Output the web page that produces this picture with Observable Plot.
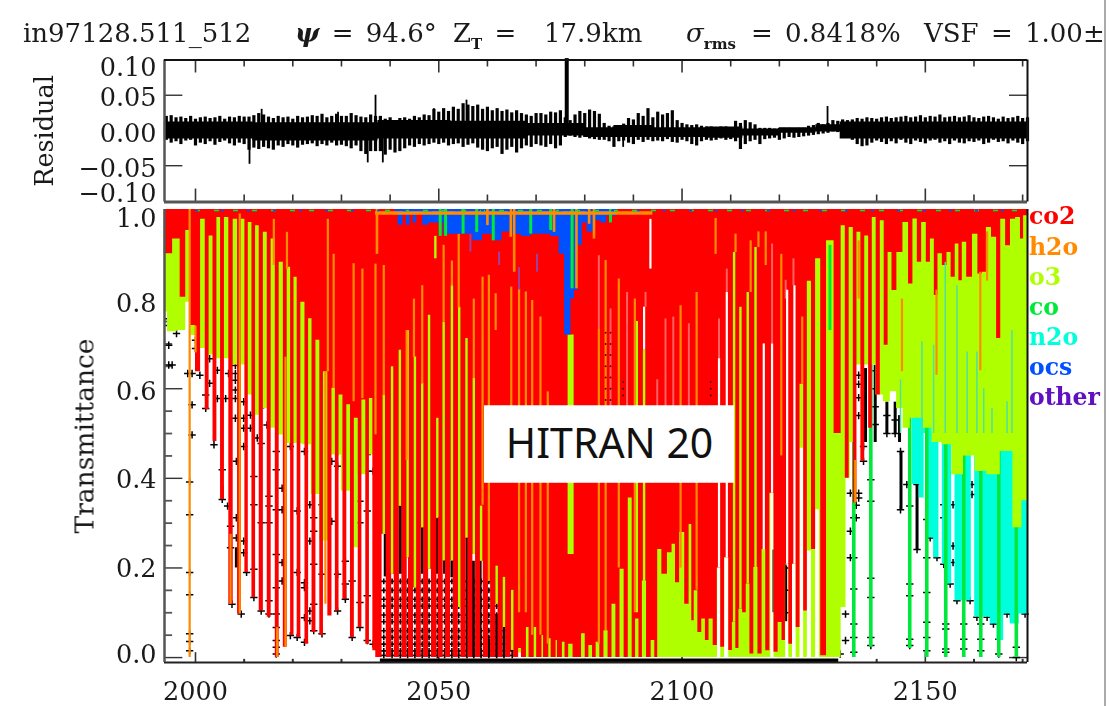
<!DOCTYPE html>
<html><head><meta charset="utf-8">
<script src="https://cdn.jsdelivr.net/npm/d3@7"></script>
<script src="https://cdn.jsdelivr.net/npm/@observablehq/plot@0.6"></script>
<style>
html,body{margin:0;padding:0;background:#fff}
#page{position:relative;width:1109px;height:706px;overflow:hidden;background:#fff;font-family:"DejaVu Serif",serif;color:#1a1a1a}
#page svg{position:absolute;left:0;background:transparent;filter:blur(.45px)}
.t{position:absolute;white-space:pre;font-size:26px;word-spacing:4px;line-height:30px;top:18px;filter:blur(.35px)}
.sub{font-size:15px;font-weight:bold;position:relative;top:7px}
.leg{position:absolute;left:1029px;font-weight:bold;font-size:23.5px;line-height:26px;filter:blur(.3px)}
#clip{position:absolute;left:0;top:0;width:1103px;height:60px;overflow:hidden}
#edge{position:absolute;left:1104px;top:0;width:2px;height:706px;background:#aaa}
</style></head><body><div id="page"><div id="clip">
<span class="t" style="left:23px">in97128.511_512</span>
<span class="t" style="left:295px"><b><i>ψ</i></b> = 94.6°</span>
<span class="t" style="left:453px">Z<span class="sub">T</span> =</span>
<span class="t" style="left:544px">17.9km</span>
<span class="t" style="left:686px"><i>σ</i><span class="sub">rms</span></span>
<span class="t" style="left:751px">= 0.8418%</span>
<span class="t" style="left:924px">VSF =</span>
<span class="t" style="left:1025px">1.00±0</span>
</div><div id="edge"></div></div>
<script>
// ---------- axis values
const xDomain = [1993.63, 2171];
const xMajor = [2000, 2050, 2100, 2150];
const xMinor = [2010, 2020, 2030, 2040, 2060, 2070, 2080, 2090, 2110, 2120, 2130, 2140, 2160, 2170];
const transMajor = [0, 0.2, 0.4, 0.6, 0.8];
const transMinor = [0.05, 0.1, 0.15, 0.25, 0.3, 0.35, 0.45, 0.5, 0.55, 0.65, 0.7, 0.75, 0.85, 0.9, 0.95];
const gases = ["co2", "h2o", "o3", "co", "n2o", "ocs", "other"];
const gasTop = [203, 234, 264, 294, 324, 354, 384];
const RED = "#ff0000", ORANGE = "#ff8c00", LIME = "#b0ff00", GREEN = "#00e83a", CYAN = "#00ffdc", BLUE = "#0050ff", PURPLE = "#6010c0";
const gasColors = [RED, ORANGE, LIME, GREEN, CYAN, BLUE, PURPLE];

// ---------- residual panel, thousandths, one value per wavenumber from 1994 to 2171
const residHi = [20,21,18,19,17,20,16,18,19,17,18,20,16,19,18,20,19,
 19,21,24,22,19,17,20,18,19,16,20,18,19,21,20,23,18,20,23,20,
 20,24,21,19,18,22,20,20,16,18,14,17,18,16,20,18,22,21,
 30,26,31,27,33,30,38,36,34,36,30,33,28,31,27,29,25,28,24,22,20,24,
 24,22,26,25,28,18,14,
 22,27,24,29,27,23, 10,6,5,6,9,
 17,15,24,20,31,18,26,22,24,28,14,
 10,8,7,8,6,5,5,4,5,5,4, 13,10,14,11,8,
 3,3,3,2,3,3,3,2,3,3, 6,7,10,8, 10, 14,13,15,14,
 15,17,16,18,17,16,18,19,17,18,19,20,18,19,21,18,20,19,22,18,19,20,18,19,21,18,17,19,20,18,16,19,17,18,20,17,18];
const residLo = [-14,-18,-16,-20,-15,-14,-22,-18,-20,-16,-21,-17,-15,-19,-22,-18,-20,
 -28,-25,-27,-24,-26,-28,-22,-24,-20,-22,-25,-21,-20,-19,-23,-20,-22,-18,-22,-21,
 -23,-26,-22,-30,-34,-30,-30,-30,-35,-28,-32,-30,-26,-22,-24,-20,-22,-20,
 -18,-20,-18,-22,-20,-19,-24,-21,-19,-25,-28,-30,-26,-24,-34,-28,-24,-32,-26,-22,-24,-20,
 -22,-24,-20,-26,-22,-10,-8,
 -10,-11,-10,-12,-13,-14, -14,-16,-24,-16,-15,
 -18,-20,-14,-17,-14,-16,-15,-16,-13,-17,-18,
 -14,-16,-20,-22,-16,-14,-15,-14,-12,-14,-13, -16,-27,-20,-16,-14,
 -20,-13,-12,-11,-14,-12,-10,-11,-10,-9, -8,-7,-6,-5, -4, -2,-3,-2,-3,
 -14,-20,-23,-22,-18,-15,-17,-20,-16,-19,-14,-18,-20,-15,-17,-19,-15,-14,-18,-16,-20,-15,-18,-19,-16,-17,-15,-20,-18,-14,-17,-16,-19,-15,-18,-20,-16];
// solid core of the noise band: [wavenumber, upper, lower]
const residCore = [[1993.6,.012,-.012],[2030,.011,-.015],[2045,.014,-.012],[2060,.013,-.012],[2076,.01,-.008],[2084,.004,-.01],[2088,.007,-.01],[2100,.004,-.01],[2110,.005,-.011],[2115,.002,-.008],[2125,.004,-.004],[2130,.008,-.002],[2135,.012,-.012],[2171,.012,-.012]];
const residSpikes = [[2011.1,-0.048],[2035.4,-0.046],[2038.5,-0.046],[2037,0.05],[2013.6,0.03],[2029.3,0.026],[2055.7,0.043],[2049,0.031],[2129.9,0.034],[2087.9,-0.024]];
const residBig = [[2076.3,0.102]];

// ---------- transmittance: lower edge of the solid co2 band
const co2Left = [[1993.6,.901],[1994.5,.901],[1996.1,.934],[1997.6,.804],[1998.4,.953],[1999.5,.741],[2000.5,.638],[2001.6,.978],[2002.4,.553],[2003.2,.941],[2004,.482],[2004.8,.982],[2005.5,.353],[2006.4,.982],[2007.3,.119],[2008.2,.978],[2009.1,.097],[2009.8,.978],[2010.5,.19],[2011.2,.971],[2012,.134],[2012.7,.964],[2013.5,.104],[2014.4,.949],[2015.1,.09],[2016,.934],[2016.8,0],[2017.6,.882],[2018.5,.023],[2019.2,.871],[2019.9,.049],[2020.6,.849],[2021.2,.045],[2022.1,.793],[2022.9,.03],[2023.6,.756],[2024.3,.056],[2025.2,.708],[2025.9,.049],[2026.7,.638],[2027.7,.093],[2028.4,.601],[2029.1,.104],[2029.9,.586],[2030.7,.13],[2031.5,.564],[2032.2,.045],[2033.1,.534],[2033.8,.067],[2034.6,.575],[2035.4,.03],[2036.1,.578],[2036.8,.015],[2037.3,0],[2038,0]];
const co2Mid = [[2038.7,.275],[2039.7,0],[2040.4,.186],[2041.3,0],[2042,.338],[2042.9,0],[2043.6,.223],[2044.2,0],[2045.1,.156],[2045.8,0],[2046.6,.29],[2047.3,0],[2048,.197],[2049,0],[2049.7,.312],[2050.3,0],[2051,.216],[2051.8,0],[2052.7,.216],[2053.4,0],[2054.2,.112],[2055,0],[2055.7,.267],[2056.4,0],[2057.2,.23],[2058,0],[2058.7,.215],[2059.6,0],[2060.3,.171],[2061.1,0],[2061.9,.119],[2062.6,0],[2063.4,.067],[2064.2,0],[2065.1,.016],[2065.8,0],[2066.7,.02],[2067.4,0],[2068.2,.067],[2069,0],[2069.7,.067],[2070.6,0],[2071.1,.049],[2072,0],[2072.9,.042],[2073.5,0],[2074,.038],[2074.8,0],[2075.6,.034],[2076.3,0],[2077.1,.03],[2078.1,0],[2079,0],[2079.7,.053],[2080.5,0],[2081.2,.027],[2082,0],[2082.7,.034],[2083.5,0],[2084.4,.06],[2085.2,0],[2086,.119],[2086.8,0],[2087.7,.197],[2088.5,0],[2089.4,.356],[2090.1,0],[2090.8,.086],[2091.5,0],[2092.2,.171],[2093.2,0],[2094.1,.038],[2094.7,0]];
const co2Block = [[2095.3,.241],[2096.4,.186],[2097.6,.234],[2098.3,.253],[2099,.167],[2100,.279],[2101.1,.119],[2101.8,.297],[2102.2,.082],[2102.8,.149],[2103.7,.056],[2104.4,.086],[2105.2,.038],[2105.9,.086],[2106.9,.027],[2107.6,.2],[2108.3,.023],[2109.2,.223],[2110,.016],[2110.7,.079],[2111.4,.02],[2112,.108],[2112.9,.1],[2113.5,.164],[2114.4,.008],[2115.1,.201],[2116.1,.008],[2116.8,.241],[2117.6,.015],[2118.5,.367],[2119.3,.012],[2120.2,.078],[2120.9,.038],[2121.6,.208],[2122.3,.03],[2123.1,.208],[2123.8,.067],[2124.7,.61],[2125.3,.104],[2126.2,.84],[2127,.241],[2127.9,.89],[2129.1,.004]];
const co2Right = [[2130.3,.93],[2132.2,.5],[2133.2,.964],[2133.9,.4],[2134.8,.96],[2135.6,.345],[2136.3,.949],[2137.2,.438],[2137.9,.941],[2138.8,.512],[2139.4,.982],[2140.4,.586],[2141.1,.975],[2142,.697],[2142.7,.904],[2143.6,.819],[2144.7,.904],[2146.1,.971],[2147,.834],[2147.9,.979],[2148.8,.882],[2149.7,.971],[2150.7,.882],[2151.4,.934],[2152.3,.808],[2152.9,.901],[2154.1,.875],[2154.8,.904],[2155.8,.849],[2156.5,.923],[2157.3,.841],[2157.9,.927],[2159.1,.849],[2160.3,.945],[2161.3,.856],[2162.1,.86],[2163,.96],[2164.2,.938],[2165.1,.712],[2165.9,.978],[2167.1,.919],[2167.9,.978],[2169.2,.982],[2169.9,.934],[2170.5,.986],[2171,.986]];
// strongest co2 lines, wider than the steps above
const co2Strong = [2039.7,2041.3,2042.9,2044.2,2045.8,2047.3,2049,2050.3,2051.8,2053.4,2055,2056.4,2058,2059.6,2061.1,2062.6,2064.2,2065.8,2067.4,2069,2070.6,2072,2073.5,2074.8];
// lower edge of the o3 band
const o3Edge = [[1993.6,.771],[1994.9,.727],[1997.6,.73],[1998.4,.793],[1999.7,.719],[2001.4,.69],[2003.1,.675],[2004.8,.667],[2006.5,.667],[2007.9,.653],[2009.4,.653],[2011.2,.586],[2012.7,.541],[2014.4,.556],[2016,.512],[2017.5,.497],[2019,.478],[2020.9,.478],[2022.9,.475],[2024.7,.364],[2026.4,.26],[2028.8,.452],[2031.2,.371],[2032.7,.245],[2034.2,.408],[2036,.452],[2038.7,.275],[2040.4,.186],[2042.1,.338],[2043.6,.223],[2045.1,.156],[2046.6,.29],[2048,.197],[2049.7,.312],[2051.4,.216],[2052.7,.216],[2054.1,.112],[2055.8,.267],[2057.2,.23],[2058.7,.215],[2060.3,.171],[2061.9,.119],[2063.4,.067],[2065.1,.016],[2066.7,.01],[2067.5,0],[2107,0],[2107.6,.2],[2108.3,0],[2109.2,.223],[2110,0],[2118,0],[2118.5,.367],[2119.3,0],[2121,0],[2121.6,.208],[2122.3,0],[2123.1,.208],[2123.8,0],[2124.7,.467],[2125.3,0],[2126.2,.238],[2127,0],[2127.9,.33],[2128.6,0],[2132.2,0],[2133.2,.112],[2134.2,.4],[2134.9,.48],[2136.6,.653],[2138.4,.653],[2139,.653],[2140.7,.586],[2142.1,.571],[2143.5,.593],[2144.7,.556],[2146.2,.512],[2147.6,.534],[2149,.534],[2150.3,.512],[2152.4,.48],[2154.4,.475],[2156.5,.408],[2159.2,.45],[2161.3,.415],[2164,.408],[2166.8,.46],[2169.2,.29],[2170.5,.35],[2171,.35]];
// lower edge of the n2o band
const n2oEdge = [[2146.8,.7],[2147.9,.386],[2149.6,.356],[2149.9,.5],[2151,.267],[2152.4,.223],[2153.2,.5],[2153.8,.208],[2155.1,.164],[2155.7,.5],[2156.5,.127],[2159.2,.127],[2159.7,.5],[2160.6,.09],[2162.7,.09],[2164,.075],[2165.4,.038],[2166.8,.097],[2168.1,.075],[2170.5,.097],[2171,.097]];
// lower edge of the ocs band on top of the others
const ocsEdge = [[2041,.99],[2042.3,.965],[2043,.99],[2043.7,.965],[2044.5,.99],[2045,.97],[2046,.99],[2047.4,.965],[2048.5,.97],[2050,.97],[2052,.945],[2054,.945],[2056,.945],[2058,.93],[2060,.945],[2062,.93],[2064,.95],[2066,.945],[2068,.94],[2070,.945],[2072,.945],[2074,.94],[2075.5,.9],[2076.2,.72],[2076.8,.72],[2077.5,.8],[2078.3,.82],[2079,.92],[2080,.97],[2081,.95],[2082.7,.975],[2084,.97],[2085,.985],[2088,1]];

// ---------- single lines [wavenumber, upper transmittance, lower transmittance]
const coLines = [[2135.3,.75,0],[2138.8,.75,.023],[2146.8,.75,.02],[2150.3,.75,0],[2154.2,.75,0],[2157.9,.75,0],[2161.4,.75,0],[2165.1,.75,0],[2168.7,.75,0],[2123.3,.65,.3],[2127.4,.893,.44]];
const coTop = [[2055,1,.945],[2057.8,1,.949],[2061.2,1,.93],[2068.9,1,.945],[2073,1,.953],[2077.4,1,.823],[2085.3,1,.97],[2050.3,1,.94],[2051.4,1,.94],[2130.4,.92,.73]];
const h2oLines = [[1998.8,1,0],[2009.1,.99,.097],[2018.5,.67,.023],[2026.7,.638,.119],[2016.8,.067,0],[2007.2,.275,.119],[2000,.74,.68],[2016.1,.978,.875],[2018.8,.949,.867],[2027.2,.978,.638],[2028.4,.9,.601],[2032.5,.879,.571],[2034.3,.867,.578],[2037,.878,.497],[2038.7,.875,.586],[2043.4,.73,.44],[2044.9,.8,.67],[2046.6,.83,.61],[2051,.92,.75],[2052.7,.885,.83],[2054.1,.945,.78],[2057.2,.8,.623],[2059,.849,.34],[2060.3,.853,.17],[2061.7,.812,.73],[2064.9,.827,.44],[2066.5,.823,.1],[2067.9,.816,.1],[2069.2,.797,.05],[2070.9,.76,.05],[2072.4,.593,.03],[2084.3,.886,.06],[2082.9,.734,.03],[2087,.845,.2],[2090.3,.8,.1],[2099.7,.785,.2],[2103,.815,.15],[2111,.945,.904],[2114.1,.93,.815],[2115.7,.95,.915],[2117.2,.95,.875],[2120.4,.9,.45],[2106.9,.98,.9],[2124.7,.76,.61],[2136.3,.93,.8],[2145.2,.8,.638],[2152.3,.82,.63],[2161.3,.86,.64],[2162.7,.95,.84],[2135.6,.44,.345]];
const h2oTop = [[2037.3,1,.9],[2060,1,.964],[2064.8,1,.938],[2065.5,1,.86],[2073.7,1,.949],[2078.3,1,.823],[2080.9,1,.967],[2081.9,1,.934]];
const o3Lines = [[2038.7,.586,.275],[2040.4,.649,.186],[2042,.686,.338],[2043.6,.73,.223],[2045.1,.671,.156],[2046.6,.612,.29],[2048,.764,.197],[2049.7,.534,.312],[2051,.749,.216],[2052.7,.83,.216],[2054.2,.782,.112],[2055.7,.712,.267],[2057.2,.623,.23],[2058.7,.338,.215],[2061.9,.204,.119],[2063.4,.179,.067],[2065.1,.15,.016],[2090.7,.75,.1],[2092.2,.686,.17],[2110.7,.904,.079],[2112,.782,.108],[2113.5,.815,.164],[2115.1,.915,.201],[2049.3,.94,.89]];
const o3Wide = [[2077.1,.72,.23]];
const n2oLines = [[2144.9,.62,.5],[2149.3,.705,.5],[2151.7,.697,.5],[2154.1,.882,.5],[2156.5,.83,.5],[2158.6,.682,.5],[2160.6,.682,.5],[2162,.6,.5],[2163.7,.556,.5],[2166.8,.571,.5],[2167.8,.73,.5]];
const otherLines = [[2056.5,.945,.905],[2062.4,.905,.875],[2066.5,.87,.82],[2070.2,.9,.86]];
const paleLines = [[2082.9,.897,.734],[2085.3,.778,.56],[2088.7,.815,.56],[2092.5,.815,.782],[2096.6,.756,.56],[2098.2,.76,.56],[2101.4,.745,.56],[2109.2,.867,.815],[2107.6,.756,.667],[2118.5,.923,.7],[2121.3,.842,.8],[2094.9,.62,.56],[2122.9,.89,.83]];
const whiteLines = [[2093.5,.978,.867],[2092.2,.782,.686],[2107.6,.667,.2],[2109.2,.815,.223],[2116.8,.7,.241],[2118.5,.7,.367],[2121.6,.82,.208],[2123.1,.83,.208]];
const blackLines = [[2005.5,.382,.353],[2008.4,.245,.2],[2030.7,.16,.127],[2039,.275,.18],[2042.1,.338,.186],[2046.6,.29,.186],[2049.7,.31,.186],[2051.2,.267,.186],[2052.7,.216,.178],[2055.8,.267,0],[2057.1,.215,0],[2058.5,.215,0],[2061.9,.097,0],[2063.4,.075,0],[2060.3,.04,0],[2145,.46,.33],[2148.3,.386,.24],[2137.7,.645,.48],[2139.7,.652,.48],[2142.1,.57,.5],[2143.8,.57,.5],[2144.7,.54,.48],[2148,.585,.55],[2155.8,.545,.48],[2150.6,.5,.47],[2118.9,.24,.1],[2121.3,.204,.08],[2109.3,.267,.23]];
const saturatedEdge = [2038, 2132.2];
const topSpeckleGreen = [2000, 2171];

// ---------- measured points [wavenumber, [transmittances]]
const measured = [
[1994.5,[.756,.741,.697,.653]],[1995.2,[.653]],[1996.1,[.723]],[1998.4,[.634]],[1999.3,[.634,.564,.497]],[2000,[.708,.69]],[2000.9,[.63]],[2002.1,[.586,.556]],[2002.9,[.667,.612]],[2004.5,[.641,.578]],[2006.2,[.712,.69,.578]],[2006.8,[.634]],[2008.2,[.652,.634,.619,.597,.578,.534]],[2009.9,[.571,.534,.512]],[2011.3,[.541,.512]],[2012.7,[.49]],[2014,[.645,.586,.564]],[2014.7,[.519]],[2017.1,[.541,.512]],
[1998.8,[.392,.319,.19,.14,.053,.036,.015]],[2003.8,[.475]],[2005.5,[.419,.353]],[2006.6,[.338]],[2007.2,[.293,.245]],[2007.5,[.119]],[2008.4,[.438,.312,.267]],[2009.4,[.097]],[2009.9,[.471,.26,.234]],[2010.5,[.19]],[2012,[.404,.341,.197,.134]],[2013.5,[.478,.301,.104]],[2015.1,[.36,.338,.301,.127,.097]],[2016.6,[.46,.419,.33,.23,.156,.097,.067,.038,.023,.008]],[2017.8,[.378,.33,.212,.171]],[2019.5,[.471,.049]],[2020.9,[.327,.19,.045]],[2022.4,[.46,.167,.156,.089,.034]],[2023.5,[.341,.26,.104,.082]],[2024.3,[.312,.282,.208,.119,.06]],[2026,[.341,.186,.053]],[2028,[.438,.304]],[2029.2,[.46,.427,.186,.104]],[2030.8,[.215,.164,.13]],[2032.2,[.171,.045]],[2033.8,[.464,.349,.301,.123,.067]],[2035.3,[.453,.416,.327,.138,.038]],[2036.5,[.416,.03]],
[2135.3,[.367,.312,.223,.153,.075,.045,.012]],[2138.8,[.397,.349,.177,.134,.045,.027]],[2146.8,[.338,.164,.138,.041,.027]],[2150.3,[.308,.223,.145,.079,.045,.015]],[2154.2,[.341,.075,.064,.019,.012]],[2157.9,[.075,.041,.019]],[2161.4,[.075,.041,.015]],[2165.1,[.075,.041,.008]],[2168.7,[.023,0]],
[2134.6,[.367,.282,.223]],[2133.6,[.097,.038]],[2132.5,[.008]],[2137.3,[.471,.438]],[2136.3,[.367,.356]],[2135.8,[.34,.312]],[2144.9,[.46,.33]],[2148.3,[.386,.241]],[2146.2,[.386]],[2151.7,[.423,.39]],[2153.8,[.341,.312,.208]],[2155.7,[.341,.249,.212]],[2159.6,[.386,.364]],[2164.4,[.204,.164,.119]],[2167.5,[.164,.097]],
[2151,[.267]],[2152.4,[.223]],[2155.1,[.164]],[2156.5,[.127]],[2159.2,[.127]],[2160.6,[.09]],[2162.7,[.09]],[2164,[.075]],[2166.8,[.097]],[2170.5,[.097]],
[2130.5,[.708,.69,.67,.65,.63,.61,.59]],[2136.3,[.63,.61,.58,.54]],[2139.7,[.64,.6,.56,.52]],[2142.1,[.54,.5]],[2143.8,[.53,.5]],
[2107.9,[.35,.3,.26]],[2109.3,[.34,.3]],[2118.6,[.6,.55,.5]],[2121.3,[.2,.15,.1]]];
const measuredOnTop = [[2084.3,[.725,.7,.675,.65,.625,.6,.575]],[2085.3,[.725,.7,.675,.65,.625,.6,.575]],[2087.9,[.615,.6,.585]],[2105.9,[.615,.6,.585]]];
const denseX = [2038.7,2040.4,2042.1,2043.6,2045.1,2046.6,2048,2049.7,2051.2,2052.7,2054.1,2055.8,2057.2,2058.7,2060.3,2061.9,2063.4,2065.1];
const denseT = [.17,.15,.13,.115,.095,.08,.06,.045,.03,.015,.005];

// ---------- annotation
const noteBox = {x1: 2059.4, x2: 2110.8, y1: .389, y2: .562, label: "HITRAN 20"};

// ---------- drawing
const font = "'DejaVu Serif', serif";
const INK = "#1a1a1a", FRAME = "#333";
const base = {
  width: 1109, marginLeft: 164, marginRight: 82,
  x: {domain: xDomain, axis: null},
  style: {fontFamily: font, fontSize: "25.5px", color: INK, background: "transparent", overflow: "visible"}
};
const resF = d => d3.format(".2f")(d);
const step = {curve: "step"};
const lines = (arr, stroke, strokeWidth) => Plot.ruleX(arr, {x: d => d[0], y1: d => d[1], y2: d => d[2], stroke, strokeWidth});
const yAxis = (ticks, dy, fmt) => Plot.axisY({ticks, tickSize: 0, tickPadding: 8, tickFormat: fmt, dy, stroke: INK});

// residual panel
const residRows = residHi.map((h, i) => ({x: 1994 + i, hi: h / 1000, lo: residLo[i] / 1000}));
const resid = Plot.plot({...base, height: 205, marginTop: 59.5, marginBottom: 3.5,
  y: {domain: [-0.1015, 0.1], axis: null},
  marks: [
    Plot.ruleX(residRows, {x: "x", y1: "lo", y2: "hi", stroke: "black", strokeWidth: 3.2}),
    Plot.areaY(residCore, {x: d => d[0], y1: d => d[2], y2: d => d[1], fill: "black", ...step}),
    Plot.ruleX(residSpikes, {x: d => d[0], y1: 0, y2: d => d[1], stroke: "black", strokeWidth: 1.8}),
    Plot.ruleX(residBig, {x: d => d[0], y1: 0, y2: d => d[1], stroke: "black", strokeWidth: 4}),
    Plot.ruleX(xMajor, {y1: 0.1, y2: 0.0816, stroke: FRAME, strokeWidth: 1.6}),
    Plot.ruleX(xMajor, {y1: -0.1015, y2: -0.0831, stroke: FRAME, strokeWidth: 1.6}),
    Plot.ruleX(xMinor, {y1: 0.1, y2: 0.0901, stroke: FRAME, strokeWidth: 1.6}),
    Plot.ruleX(xMinor, {y1: -0.1015, y2: -0.0916, stroke: FRAME, strokeWidth: 1.6}),
    Plot.ruleY([0.05, -0.05], {x1: xDomain[0], x2: 1997.4, stroke: FRAME, strokeWidth: 1.4}),
    Plot.ruleY([0.05, -0.05], {x1: 2167.3, x2: xDomain[1], stroke: FRAME, strokeWidth: 1.4}),
    Plot.ruleY([-0.1015], {stroke: "#555", strokeWidth: 3}),
    Plot.ruleX([xDomain[0]], {stroke: "#555", strokeWidth: 2.5}),
    Plot.ruleY([0.1], {stroke: "#111", strokeWidth: 2}),
    Plot.ruleX([xDomain[1]], {stroke: "#111", strokeWidth: 2}),
    yAxis([0.10], 8, resF), yAxis([0.05], 3, resF), yAxis([0], 3, resF), yAxis([-0.05], 3, resF), yAxis([-0.10], -7, resF),
    Plot.text(["Residual"], {frameAnchor: "left", dx: -120, rotate: -90, textAnchor: "middle", fontSize: 25.5})
  ]});

// transmittance panel
const co2Edge = [...co2Left, ...co2Mid, ...co2Block, ...co2Right];
const yTop = 1;
const dots = measured.flatMap(([x, ts]) => ts.map(y => ({x, y})));
const dotsOnTop = measuredOnTop.flatMap(([x, ts]) => ts.map(y => ({x, y})));
const dense = denseX.flatMap(x => denseT.map(y => ({x, y})));
const trans = Plot.plot({...base, height: 501, marginTop: 4, marginBottom: 44,
  y: {domain: [-0.011, yTop], axis: null},
  marks: [
    Plot.ruleX(xMajor, {y1: -0.011, y2: 0.011, stroke: FRAME, strokeWidth: 1.6}),
    Plot.ruleX(xMinor, {y1: -0.011, y2: -0.004, stroke: FRAME, strokeWidth: 2}),
    Plot.ruleY(transMajor, {x1: xDomain[0], x2: 1997.4, stroke: FRAME, strokeWidth: 1.4}),
    Plot.ruleY(transMinor, {x1: xDomain[0], x2: 1995.3, stroke: "#555", strokeWidth: 1.8}),
    Plot.ruleY(transMajor, {x1: 2167.3, x2: xDomain[1], stroke: FRAME, strokeWidth: 1.4}),
    Plot.dot(dots, {x: "x", y: "y", symbol: "plus", r: 2.5, stroke: "black", strokeWidth: 1.5}),
    Plot.dot(dense, {x: "x", y: "y", symbol: "plus", r: 2, stroke: "black", strokeWidth: 1.6}),
    lines(blackLines, "black", 3),
    Plot.areaY(n2oEdge, {x: d => d[0], y1: yTop, y2: d => d[1], fill: CYAN, ...step}),
    lines(coLines, GREEN, 3.6),
    Plot.areaY(o3Edge, {x: d => d[0], y1: yTop, y2: d => d[1], fill: LIME, ...step}),
    Plot.areaY(co2Edge, {x: d => d[0], y1: yTop, y2: d => d[1], fill: RED, ...step}),
    Plot.ruleX(co2Strong, {y1: yTop, y2: 0, stroke: RED, strokeWidth: 5}),
    lines(n2oLines, "#50e0a0", 1.5),
    lines(paleLines, "#ff6060", 2),
    lines(whiteLines, "white", 2.2),
    lines(o3Lines, LIME, 2.4),
    lines(o3Wide, LIME, 6),
    lines(h2oLines, ORANGE, 2.2),
    lines(otherLines, "#a040a0", 2),
    Plot.dot(dotsOnTop, {x: "x", y: "y", r: 1, fill: "#500"}),
    Plot.areaY(ocsEdge, {x: d => d[0], y1: yTop, y2: d => d[1], fill: BLUE, ...step}),
    lines(coTop, GREEN, 3),
    lines(h2oTop, ORANGE, 2.6),
    Plot.ruleY([0.992], {x1: 2037, x2: 2094, stroke: ORANGE, strokeWidth: 3.5}),
    Plot.ruleY([0.998], {x1: topSpeckleGreen[0], x2: topSpeckleGreen[1], stroke: GREEN, strokeWidth: 1.5, strokeDasharray: "5 14"}),
    Plot.ruleY([0.998], {x1: topSpeckleGreen[0], x2: topSpeckleGreen[1], stroke: BLUE, strokeWidth: 1.5, strokeDasharray: "3 23"}),
    Plot.ruleY([-0.006], {x1: saturatedEdge[0], x2: saturatedEdge[1], stroke: "black", strokeWidth: 3.5}),
    Plot.ruleY([-0.011], {stroke: "#222", strokeWidth: 2}),
    Plot.ruleX([xDomain[0]], {stroke: "#555", strokeWidth: 2.5}),
    Plot.ruleX([xDomain[1]], {stroke: "#111", strokeWidth: 2}),
    Plot.rect([noteBox], {x1: "x1", x2: "x2", y1: "y1", y2: "y2", fill: "white"}),
    Plot.text([noteBox], {x: d => (d.x1 + d.x2) / 2, y: d => (d.y1 + d.y2) / 2, text: "label", fontFamily: "'Noto Sans', sans-serif", fontSize: 41, fill: "#111"}),
    yAxis([1], 9, d => d3.format(".1f")(d)), yAxis([0.8], 5, d => d3.format(".1f")(d)), yAxis([0.6], 3, d => d3.format(".1f")(d)),
    yAxis([0.4, 0.2], 1, d => d3.format(".1f")(d)), yAxis([0], -3, d => d3.format(".1f")(d)),
    Plot.axisX({ticks: xMajor, tickSize: 0, tickPadding: 19, tickFormat: d => String(d), stroke: INK}),
    Plot.text(["Transmittance"], {frameAnchor: "left", dx: -79, rotate: -90, textAnchor: "middle", fontSize: 26.5})
  ]});

const page = document.getElementById("page");
resid.style.top = "0px"; trans.style.top = "205px";
page.append(resid, trans);
gases.forEach((g, i) => {
  const d = document.createElement("div");
  d.className = "leg"; d.textContent = g; d.style.top = gasTop[i] + "px"; d.style.color = gasColors[i];
  page.append(d);
});
</script></body></html>
